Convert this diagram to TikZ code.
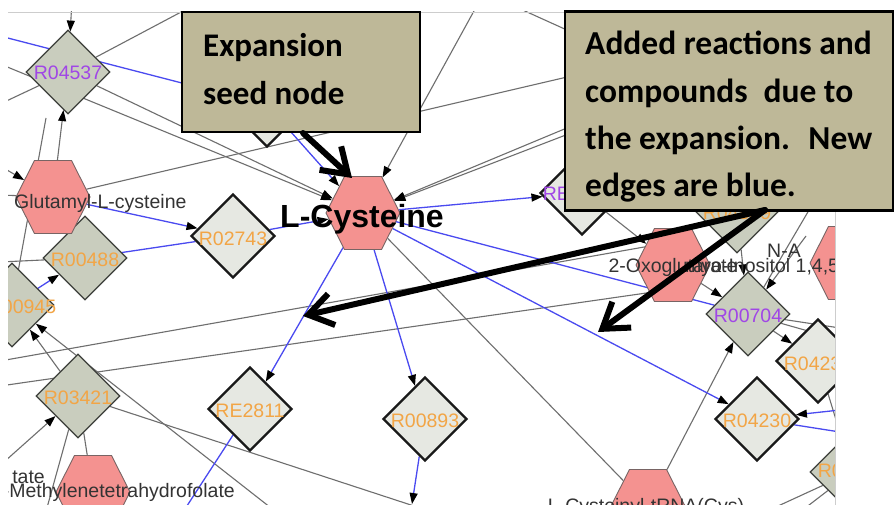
\documentclass[tikz,border=0pt]{standalone}
\usepackage{fontspec}
\setmainfont{Liberation Sans}
\newfontfamily\calfont{Carlito}
\usetikzlibrary{shapes.geometric,arrows.meta}
\pgfdeclarelayer{paper}
\pgfdeclarelayer{edges}
\pgfsetlayers{paper,edges,main}

\definecolor{hexfill}{RGB}{244,146,144}
\definecolor{hexline}{RGB}{120,100,100}
\definecolor{rxndark}{RGB}{201,205,190}
\definecolor{rxnlight}{RGB}{230,232,226}
\definecolor{rxnline}{RGB}{60,62,58}
\definecolor{orlab}{RGB}{242,165,70}
\definecolor{pulab}{RGB}{160,70,230}
\definecolor{oldedge}{RGB}{110,110,110}
\definecolor{newedge}{RGB}{74,74,240}
\definecolor{notefill}{RGB}{190,184,152}
\definecolor{panelline}{RGB}{205,205,205}

\tikzset{
  hexa/.style={regular polygon, regular polygon sides=6, minimum size=74pt,
    inner sep=0pt, transform shape, fill=hexfill, draw=hexline, line width=0.9pt},
  rxnold/.style={diamond, aspect=1, minimum width=84pt, minimum height=84pt,
    inner sep=0pt, fill=rxndark, draw=rxnline, line width=1.3pt},
  rxnnew/.style={diamond, aspect=1, minimum width=84pt, minimum height=84pt,
    inner sep=0pt, fill=rxnlight, draw=black!90, line width=2.3pt},
  lab/.style={font=\fontsize{19.5}{19.5}\selectfont, inner sep=0pt, anchor=base},
  orl/.style={lab, text=orlab},
  pul/.style={lab, text=pulab},
  cpl/.style={lab, text=black!80},
  gedge/.style={draw=oldedge, line width=1.1pt},
  bedge/.style={draw=newedge, line width=1.3pt},
  note/.style={draw=black, line width=2.4pt, fill=notefill, inner sep=0pt},
  notetext/.style={font=\calfont\bfseries\fontsize{33}{33}\selectfont,
    inner sep=0pt, anchor=base west},
  notetextb/.style={notetext, font=\calfont\bfseries\fontsize{33.5}{33.5}\selectfont},
  pointer/.style={line width=6pt, line cap=round,
    -{Straight Barb[length=24pt,width=32pt]}},
  >={Triangle[length=11pt,width=8pt,color=black]},
}

% compound node: slightly stretched hexagon
\newcommand\hexnode[3]{%
  \begin{scope}[shift={(#2,#3)},yscale=1.14]
    \node[hexa] (#1) at (0,0) {};
  \end{scope}}

\begin{document}
\begin{tikzpicture}[x=1pt,y=-1pt]
\begin{pgfonlayer}{paper}
  \fill[white] (0,0) rectangle (894,505);
\end{pgfonlayer}
\useasboundingbox (0,0) rectangle (894,505);

\begin{scope}
\clip (8,12) rectangle (835,505);

% reactions already in the network
\node[rxnold] (r04537) at (68,72) {};
\node[rxnold] (r00488) at (85,258) {};
\node[rxnold] (r00945) at (12,305) {};
\node[rxnold] (r03421) at (78,396) {};
\node[rxnold] (r00704) at (748,314) {};
\node[rxnold] (rhid) at (737,211) {};
\node[rxnold] (rbr) at (852,472) {};
% reactions added by the expansion
\node[rxnnew] (r02743) at (233,236) {};
\node[rxnnew] (re2811) at (250,409) {};
\node[rxnnew] (r00893) at (425,419) {};
\node[rxnnew] (r04230) at (757,419) {};
\node[rxnnew] (rtop) at (267,105) {};
\node[rxnnew] (rre) at (582,193) {};
\node[rxnnew] (r0423) at (818,361) {};

% compounds
\hexnode{glu}{53}{197}
\hexnode{cys}{363}{213}
\hexnode{meth}{93}{492}
\hexnode{trna}{648}{506}
\hexnode{oxo}{673}{265}
\hexnode{ino}{847}{263}

% labels
\node[cpl, anchor=base west] (lglu) at (14,208) {Glutamyl-L-cysteine};
\node[font=\bfseries\fontsize{32}{32}\selectfont, inner sep=0pt, anchor=base] (lcys) at (362,228) {L-Cysteine};
\node[cpl, anchor=base east] (lmeth) at (235,497) {5,10-Methylenetetrahydrofolate};
\node[cpl, anchor=base east] (ltate) at (45,483) {tate};
\node[cpl] (ltrna) at (646,512) {L-Cysteinyl-tRNA(Cys)};
\node[cpl] (loxo) at (673,272) {2-Oxoglutarate};
\node[cpl, anchor=base west] (lino) at (685,272) {myo-Inositol 1,4,5-trisphosphate};
\node[cpl, anchor=base west] (lna) at (767,257) {N-A};
\node[pul] (l04537) at (68,80) {R04537};
\node[orl] (l00488) at (85,266) {R00488};
\node[orl] (l00945) at (22,313) {R00945};
\node[orl] (l03421) at (78,404) {R03421};
\node[pul] (l00704) at (748,322) {R00704};
\node[orl] (lhid) at (737,220) {R04859};
\node[orl] (lbr) at (852,477) {R03650};
\node[orl] (l02743) at (233,245) {R02743};
\node[orl] (le2811) at (250,417) {RE2811};
\node[orl] (l00893) at (425,427) {R00893};
\node[orl] (l04230) at (757,427) {R04230};
\node[pul] (lre) at (578,201) {RE2813};
\node[orl] (l0423) at (818,370) {R04231};

% loose ends of connectors leaving the view
\coordinate (top1) at (72,0);
\coordinate (ta) at (200,2);
\coordinate (la) at (0,104);
\coordinate (lb) at (0,64);
\coordinate (tb) at (640,60);
\coordinate (lc) at (-10,160);
\coordinate (ld) at (0,195);
\coordinate (le) at (46,118);
\coordinate (lg) at (0,262);
\coordinate (tc) at (480,0);
\coordinate (td) at (505,2);
\coordinate (te) at (600,45);
\coordinate (rf) at (610,110);
\coordinate (rg) at (610,118);
\coordinate (lh) at (0,361);
\coordinate (oxa) at (695,238);
\coordinate (li) at (0,386);
\coordinate (oxb) at (695,286);
\coordinate (bb) at (414,506);
\coordinate (bc) at (280,515);
\coordinate (lj) at (-5,470);
\coordinate (bd) at (45,515);
\coordinate (rn) at (806,236);
\coordinate (ro) at (812,205);
\coordinate (rp) at (840,328);
\coordinate (rq) at (840,340);
\coordinate (be) at (765,512);
\coordinate (bf) at (800,512);
\coordinate (lm) at (0,36);
\coordinate (bg) at (412,504);
\coordinate (bh) at (183,512);
\coordinate (rs) at (840,432);
\coordinate (rt) at (840,410);

\begin{pgfonlayer}{edges}
\clip (8,12) rectangle (835,505);
% existing connections
\draw[gedge,->] (top1) -- (r04537);
\draw[gedge,->] (glu) -- (r04537);
\draw[gedge] (r04537) -- (ta);
\draw[gedge] (la) -- (r04537);
\draw[gedge,->] (r04537) -- (cys);
\draw[gedge,->] (lb) -- (cys);
\draw[gedge] (glu) -- (tb);
\draw[gedge,->] (lc) -- (glu);
\draw[gedge] (ld) -- (glu);
\draw[gedge] (le) -- (r00945);
\draw[gedge] (lg) -- (r00488);
\draw[gedge,->] (tc) -- (cys);
\draw[gedge] (td) -- (te);
\draw[gedge,->] (rf) -- (cys);
\draw[gedge,->] (rg) -- (cys);
\draw[gedge] (lh) -- (oxa);
\draw[gedge] (li) -- (oxb);
\draw[gedge] (cys) -- (trna);
\draw[gedge,->] (trna) -- (r00704);
\draw[gedge] (r03421) -- (bb);
\draw[gedge,->] (bc) -- (r00945);
\draw[gedge,->] (r03421) -- (r00945);
\draw[gedge,->] (lj) -- (r03421);
\draw[gedge] (r03421) -- (bd);
\draw[gedge] (r03421) -- (meth);
\draw[gedge,->] (rre) -- (oxo);
\draw[gedge,->] (oxo) -- (r00704);
\draw[gedge,->] (rhid) -- (r00704);
\draw[gedge,->] (rn) -- (r00704);
\draw[gedge] (ro) -- (r00704);
\draw[gedge] (r00704) -- (rp);
\draw[gedge] (r00704) -- (rq);
\draw[gedge,->] (r00704) -- (r0423);
\draw[gedge,->] (r0423) -- (rbr);
\draw[gedge] (rbr) -- (be);
\draw[gedge] (rbr) -- (bf);
% connections added by the expansion
\draw[bedge] (lm) -- (rtop);
\draw[bedge,->] (rtop) -- (cys);
\draw[bedge,->] (glu) -- (r02743);
\draw[bedge,->] (r00945) -- (r00488);
\draw[bedge] (r00488) -- (r02743);
\draw[bedge,->] (r02743) -- (cys);
\draw[bedge,->] (cys) -- (rre);
\draw[bedge,->] (cys) -- (re2811);
\draw[bedge,->] (cys) -- (r00893);
\draw[bedge] (cys) -- (r00704);
\draw[bedge,->] (cys) -- (r04230);
\draw[bedge,->] (r00893) -- (bg);
\draw[bedge] (re2811) -- (bh);
\draw[bedge] (r04230) -- (rs);
\draw[bedge,->] (rt) -- (r04230);
\end{pgfonlayer}
\end{scope}

% frame of the network view
\draw[panelline, line width=0.8pt] (8,12) -- (835,12) -- (835,505);

% callouts
\node[note, minimum width=238pt, minimum height=120pt] (seedbox) at (301,72) {};
\node[notetext] (t1a) at (203,57) {Expansion};
\node[notetext] (t1b) at (203,105) {seed node};

\node[note, minimum width=328pt, minimum height=199pt] (addbox) at (729,111) {};
\node[notetextb] (t2a) at (585,55) {Added reactions and};
\node[notetextb] (t2b) at (585,103) {compounds\hspace{0.25em} due to};
\node[notetextb] (t2c) at (585,150) {the expansion.\hspace{0.25em} New};
\node[notetextb] (t2d) at (585,197) {edges are blue.};

\coordinate (p1s) at (303,133);
\coordinate (p1e) at (352,178);
\coordinate (p2s) at (765,210);
\coordinate (p2e) at (303,316);
\coordinate (p3e) at (598,332);
\draw[pointer] (p1s) -- (p1e);
\draw[pointer] (p2s) -- (p2e);
\draw[pointer] (p2s) -- (p3e);
\end{tikzpicture}
\end{document}
